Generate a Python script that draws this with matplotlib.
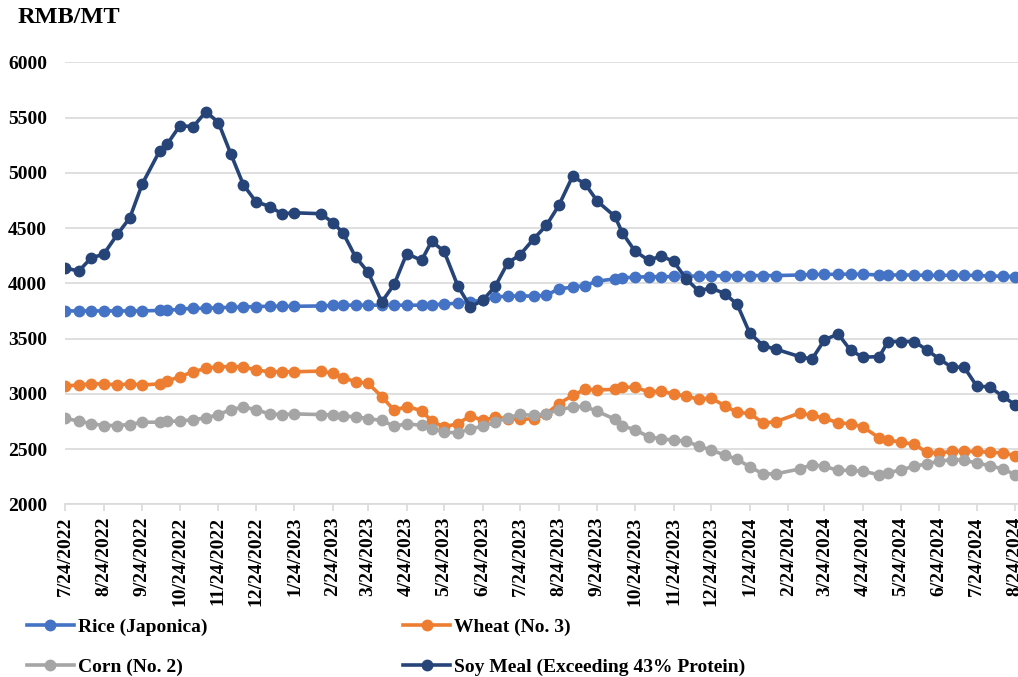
import matplotlib
matplotlib.use('Agg')
import matplotlib.pyplot as plt
import pandas as pd

# dekadal price dates (4th / 14th / 24th, shifted around holidays)
dates = pd.to_datetime([
    '2022-07-24', '2022-08-04', '2022-08-14', '2022-08-24', '2022-09-04', '2022-09-14', '2022-09-24',
    '2022-10-08', '2022-10-14', '2022-10-24', '2022-11-04', '2022-11-14', '2022-11-24', '2022-12-04',
    '2022-12-14', '2022-12-24', '2023-01-04', '2023-01-14', '2023-01-24',
    '2023-02-14', '2023-02-24', '2023-03-04', '2023-03-14', '2023-03-24', '2023-04-04', '2023-04-14',
    '2023-04-24', '2023-05-06', '2023-05-14', '2023-05-24', '2023-06-04', '2023-06-14', '2023-06-24',
    '2023-07-04', '2023-07-14', '2023-07-24',
    '2023-08-04', '2023-08-14', '2023-08-24', '2023-09-04', '2023-09-14', '2023-09-24', '2023-10-08',
    '2023-10-14', '2023-10-24', '2023-11-04', '2023-11-14', '2023-11-24', '2023-12-04', '2023-12-14',
    '2023-12-24', '2024-01-04', '2024-01-14', '2024-01-24', '2024-02-04', '2024-02-14',
    '2024-03-04', '2024-03-14', '2024-03-24', '2024-04-04', '2024-04-14', '2024-04-24', '2024-05-07',
    '2024-05-14', '2024-05-24', '2024-06-04', '2024-06-14', '2024-06-24', '2024-07-04', '2024-07-14',
    '2024-07-24', '2024-08-04', '2024-08-14', '2024-08-24',
])

rice = [3750, 3750, 3750, 3750, 3750, 3750, 3750, 3755, 3755, 3765,
        3775, 3772, 3780, 3782, 3785, 3790, 3792, 3792, 3792,
        3795, 3800, 3802, 3802, 3802, 3802, 3802, 3802, 3802, 3805, 3812, 3820, 3830, 3850, 3875, 3885, 3885,
        3885, 3892, 3950, 3965, 3980, 4020, 4040, 4050, 4055, 4060, 4058, 4062, 4065, 4065, 4065, 4070,
        4070, 4070, 4070, 4070,
        4075, 4080, 4080, 4082, 4082, 4082, 4075, 4075, 4075, 4075, 4072, 4072, 4072, 4072, 4072, 4065,
        4065, 4060]

wheat = [3070, 3080, 3090, 3090, 3080, 3090, 3080, 3090, 3115, 3155, 3200, 3230, 3245, 3245, 3245,
         3215, 3200, 3200, 3200,
         3205, 3185, 3145, 3110, 3095, 2975, 2850, 2885, 2848, 2752, 2700, 2730, 2800, 2760, 2788, 2775, 2768,
         2775, 2820, 2910, 2985, 3040, 3035, 3040, 3060, 3060, 3018, 3025, 2998, 2980, 2950, 2962, 2892,
         2832, 2822, 2735, 2748,
         2825, 2805, 2780, 2737, 2729, 2700, 2600, 2585, 2560, 2545, 2470, 2465, 2478, 2478, 2478, 2470,
         2465, 2440]

corn = [2780, 2752, 2731, 2713, 2713, 2722, 2743, 2743, 2752, 2752, 2767, 2782, 2812, 2857, 2880,
        2857, 2818, 2812, 2818,
        2812, 2807, 2798, 2792, 2775, 2759, 2705, 2729, 2714, 2684, 2654, 2645, 2684, 2705, 2744, 2783, 2813,
        2804, 2819, 2855, 2880, 2886, 2840, 2770, 2710, 2675, 2612, 2592, 2581, 2572, 2527, 2491, 2446,
        2407, 2340, 2274, 2276,
        2319, 2358, 2343, 2307, 2307, 2298, 2268, 2283, 2313, 2343, 2367, 2389, 2404, 2398, 2374, 2349,
        2319, 2268]

soy = [4140, 4110, 4230, 4263, 4443, 4593, 4900, 5200, 5260, 5425, 5419, 5554, 5455, 5170, 4893,
       4740, 4695, 4629, 4638,
       4630, 4548, 4455, 4238, 4102, 3831, 3991, 4268, 4208, 4380, 4289, 3976, 3786, 3846, 3973, 4184, 4259,
       4404, 4524, 4705, 4967, 4901, 4741, 4605, 4455, 4292, 4208, 4247, 4199, 4042, 3931, 3958, 3907,
       3810, 3551, 3434, 3404,
       3337, 3313, 3488, 3542, 3392, 3331, 3337, 3473, 3473, 3473, 3398, 3316, 3241, 3241, 3072, 3060,
       2976, 2901]

labels = ['Rice (Japonica)', 'Wheat (No. 3)', 'Corn (No. 2)', 'Soy Meal (Exceeding 43% Protein)']
colors = ['#4472C4', '#ED7D31', '#A5A5A5', '#264478']

plt.rcParams['font.family'] = 'Liberation Serif'
plt.rcParams['font.weight'] = 'bold'

fig = plt.figure(figsize=(10.18, 6.77), dpi=100)
ax = fig.add_axes([65 / 1018, (677 - 504.3) / 677, (1018 - 65) / 1018, (504.3 - 62.3) / 677])

lines = []
for i, (vals, lab, col) in enumerate(zip([rice, wheat, corn, soy], labels, colors)):
    ln, = ax.plot(dates, vals, color=col, lw=2.6, marker='o', ms=7.5, label=lab, zorder=3 + i)
    lines.append(ln)

start = pd.Timestamp('2022-07-24')
ax.set_xlim(start, start + pd.Timedelta(days=764.2))
ax.set_ylim(2000, 6000)
ax.set_yticks(range(2000, 6001, 500))

ticks = pd.date_range('2022-07-24', '2024-08-24', freq=pd.DateOffset(months=1))
ax.set_xticks(ticks)
ax.set_xticklabels([f'{d.month}/{d.day}/{d.year}' for d in ticks], rotation=90)

ax.grid(axis='y', color='#D9D9D9', lw=1.2, zorder=0)
ax.set_axisbelow(True)
for s in ['left', 'right', 'top']:
    ax.spines[s].set_visible(False)
ax.spines['bottom'].set_color('#D9D9D9')
ax.spines['bottom'].set_linewidth(1.2)
ax.tick_params(axis='y', length=0, pad=13, labelsize=14)
ax.tick_params(axis='x', length=5, color='#D9D9D9', width=1.2, pad=4, labelsize=14)

fig.text(18 / 1018, 1 - 17.5 / 677, 'RMB/MT', fontsize=17.5, fontweight='bold', va='center')

fig.legend(handles=[lines[0], lines[2], lines[1], lines[3]], ncol=2, loc='upper left',
           bbox_to_anchor=(27 / 1018, 1 - 618 / 677), frameon=False, fontsize=14,
           handlelength=2.4, handletextpad=0.2, columnspacing=10.1, labelspacing=1.15,
           borderpad=0, borderaxespad=0)

fig.savefig('out.png', dpi=100)
